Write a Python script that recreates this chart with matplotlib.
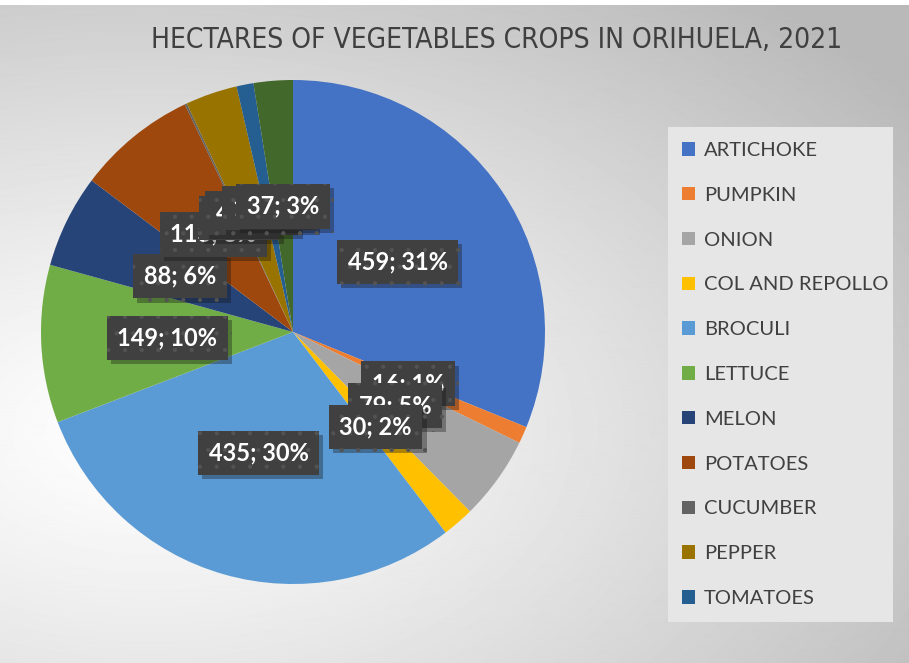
import numpy as np
import matplotlib
matplotlib.use("Agg")
from matplotlib import pyplot as plt
from matplotlib import patheffects as pe
from matplotlib.patches import Rectangle

plt.rcParams["hatch.linewidth"] = 0.6

# data (the last dark green slice has no legend entry)
crops = ["ARTICHOKE", "PUMPKIN", "ONION", "COL AND REPOLLO", "BROCULI", "LETTUCE",
         "MELON", "POTATOES", "CUCUMBER", "PEPPER", "TOMATOES", "OTHER"]
hectares = [459, 16, 79, 30, 435, 149, 88, 113, 2, 49, 16, 37]
colors = ["#4472C4", "#ED7D31", "#A5A5A5", "#FFC000", "#5B9BD5", "#70AD47",
          "#264478", "#9E480E", "#636363", "#997300", "#255E91", "#43682B"]
n_legend = 11
title = "HECTARES OF VEGETABLES CROPS IN ORIHUELA, 2021"

W, H = 909, 663
fig = plt.figure(figsize=(W/100, H/100), dpi=100)
fig.patch.set_facecolor("white")

# background gradient
bg = fig.add_axes([0, 0, 1, 1 - 5/H])
yy, xx = np.mgrid[0:H, 0:W]
d = np.sqrt(((xx - 150)/780.0)**2 + ((yy - 430)/480.0)**2)
shade = 1 - 0.22*np.clip(d, 0, 1.2)**1.2
bg.imshow(shade, cmap="gray", vmin=0, vmax=1, aspect="auto", interpolation="bilinear")
bg.axis("off")

# pie
ax = fig.add_axes([41/W, (H-584)/H, 504/W, 504/H])
wedges, _ = ax.pie(hectares, colors=colors, startangle=90, counterclock=False,
                   radius=1, wedgeprops=dict(linewidth=0))
ax.set_xlim(-1, 1)
ax.set_ylim(-1, 1)

total = sum(hectares)
for w, v in zip(wedges, hectares):
    ang = np.deg2rad((w.theta1 + w.theta2)/2)
    pct = int(v/total*100 + 0.5)
    t = ax.text(0.5*np.cos(ang), 0.5*np.sin(ang), f"{v}; {pct}%",
                ha="center", va="center", color="white", fontsize=17,
                fontweight="bold", family=["Lato", "DejaVu Sans"],
                bbox=dict(boxstyle="square,pad=0.45", facecolor="#404040",
                          edgecolor="#535353", linewidth=0, hatch="."))
    t.get_bbox_patch().set_path_effects(
        [pe.SimplePatchShadow(offset=(3, -3), alpha=0.35), pe.Normal()])

# legend box
fig.patches.append(Rectangle((668/W, 1 - 622/H), 225/W, 495/H, transform=fig.transFigure,
                             facecolor="#e6e6e6", edgecolor="none", zorder=1))
leg = fig.legend(wedges[:n_legend], crops[:n_legend], loc="upper left",
                 bbox_to_anchor=(674/W, 1 - 134/H), frameon=False,
                 prop=dict(family=["Lato", "DejaVu Sans"], size=14.5),
                 labelcolor="#404040", handlelength=0.65, handleheight=0.65,
                 handletextpad=0.45, labelspacing=1.38, borderaxespad=0)

# title: condensed look, sized to span the same width as the reference
tt = fig.text(497/W, 1 - 40/H, title, ha="center", va="center", fontsize=26,
              color="#404040", family=["DejaVu Sans"], fontstretch="condensed")
fig.canvas.draw()
tw = tt.get_window_extent().width
tt.set_fontsize(26*695/tw)

fig.savefig("out.png", dpi=100)
